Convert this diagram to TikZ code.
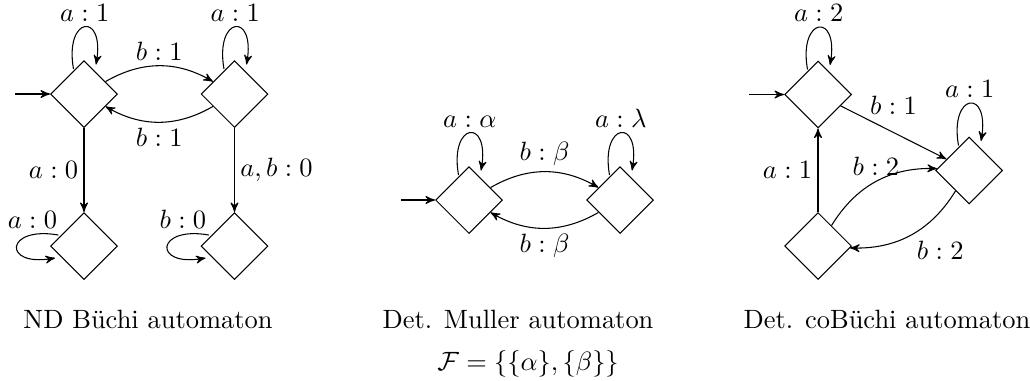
\documentclass[tikz,border=0pt]{standalone}
\usetikzlibrary{shapes.geometric,arrows}
\begin{document}
\begin{tikzpicture}[x=0.378pt,y=0.378pt,
  >=stealth',
  state/.style={diamond,draw,minimum size=25.3pt,inner sep=0pt},
  lbl/.style={inner sep=2pt}]
\path[use as bounding box] (0,0) rectangle (1030,380);

% ---- ND Buchi automaton
\node[state] (L0) at (84,286) {};
\node[state] (L1) at (234.5,286) {};
\node[state] (L2) at (84,134) {};
\node[state] (L3) at (234.5,134) {};
\coordinate (Li) at (15,286);
\draw[->] (Li) -- (L0);
\draw[->] (L0) to[bend left=30] node[lbl,above] {$b:1$} (L1);
\draw[->] (L1) to[bend left=30] node[lbl,below] {$b:1$} (L0);
\draw[->] (L0) -- node[lbl,left] {$a:0$} (L2);
\draw[->] (L1) -- node[lbl,right] {$a,b:0$} (L3);
\draw[->] ([shift={(-10.5,25)}]L0.center) .. controls +(100:54) and +(80:54) .. ([shift={(12,29.5)}]L0.center) node[lbl,above,pos=0.5] {$a:1$};
\draw[->] ([shift={(-10.5,25)}]L1.center) .. controls +(100:54) and +(80:54) .. ([shift={(12,29.5)}]L1.center) node[lbl,above,pos=0.5] {$a:1$};
\draw[->] ([shift={(-25.7,11)}]L2.center) .. controls +(170:54) and +(190:54) .. ([shift={(-29,-12)}]L2.center) node[lbl,above,pos=0.2] {$a:0$};
\draw[->] ([shift={(-25.7,11)}]L3.center) .. controls +(170:54) and +(190:54) .. ([shift={(-29,-12)}]L3.center) node[lbl,above,pos=0.2] {$b:0$};

% ---- Det. Muller automaton
\node[state] (M0) at (469,180) {};
\node[state] (M1) at (620,180) {};
\coordinate (Mi) at (401,180);
\draw[->] (Mi) -- (M0);
\draw[->] (M0) to[bend left=30] node[lbl,above] {$b:\beta$} (M1);
\draw[->] (M1) to[bend left=30] node[lbl,below] {$b:\beta$} (M0);
\draw[->] ([shift={(-10.5,25)}]M0.center) .. controls +(100:54) and +(80:54) .. ([shift={(12,29.5)}]M0.center) node[lbl,above,pos=0.5] {$a:\alpha$};
\draw[->] ([shift={(-10.5,25)}]M1.center) .. controls +(100:54) and +(80:54) .. ([shift={(12,29.5)}]M1.center) node[lbl,above,pos=0.5] {$a:\lambda$};

% ---- Det. coBuchi automaton
\node[state] (R0) at (818,285.5) {};
\node[state] (R1) at (969,209.5) {};
\node[state] (R2) at (818,134) {};
\coordinate (Ri) at (749,285.5);
\draw[->] (Ri) -- (R0);
\draw[->] (R0) -- node[lbl,above,yshift=4.6pt] {$b:1$} (R1);
\draw[->] (R2) -- node[lbl,left] {$a:1$} (R0);
\draw[->] (R2) to[bend left=30] node[lbl,above] {$b:2$} (R1);
\draw[->] (R1) to[bend left=30] node[lbl,below right] {$b:2$} (R2);
\draw[->] ([shift={(-10.5,25)}]R0.center) .. controls +(100:54) and +(80:54) .. ([shift={(12,29.5)}]R0.center) node[lbl,above,pos=0.5] {$a:2$};
\draw[->] ([shift={(-10.5,25)}]R1.center) .. controls +(100:54) and +(80:54) .. ([shift={(12,29.5)}]R1.center) node[lbl,above,pos=0.5] {$a:1$};

% ---- captions
\node[anchor=base] (c1) at (148,52) {ND B\"uchi automaton};
\node[anchor=base] (c2) at (518,52) {Det. Muller automaton};
\node[anchor=base] (c2f) at (528,10) {$\mathcal{F}=\{\{\alpha\},\{\beta\}\}$};
\node[anchor=base] (c3) at (887,52) {Det. coB\"uchi automaton};
\end{tikzpicture}
\end{document}
